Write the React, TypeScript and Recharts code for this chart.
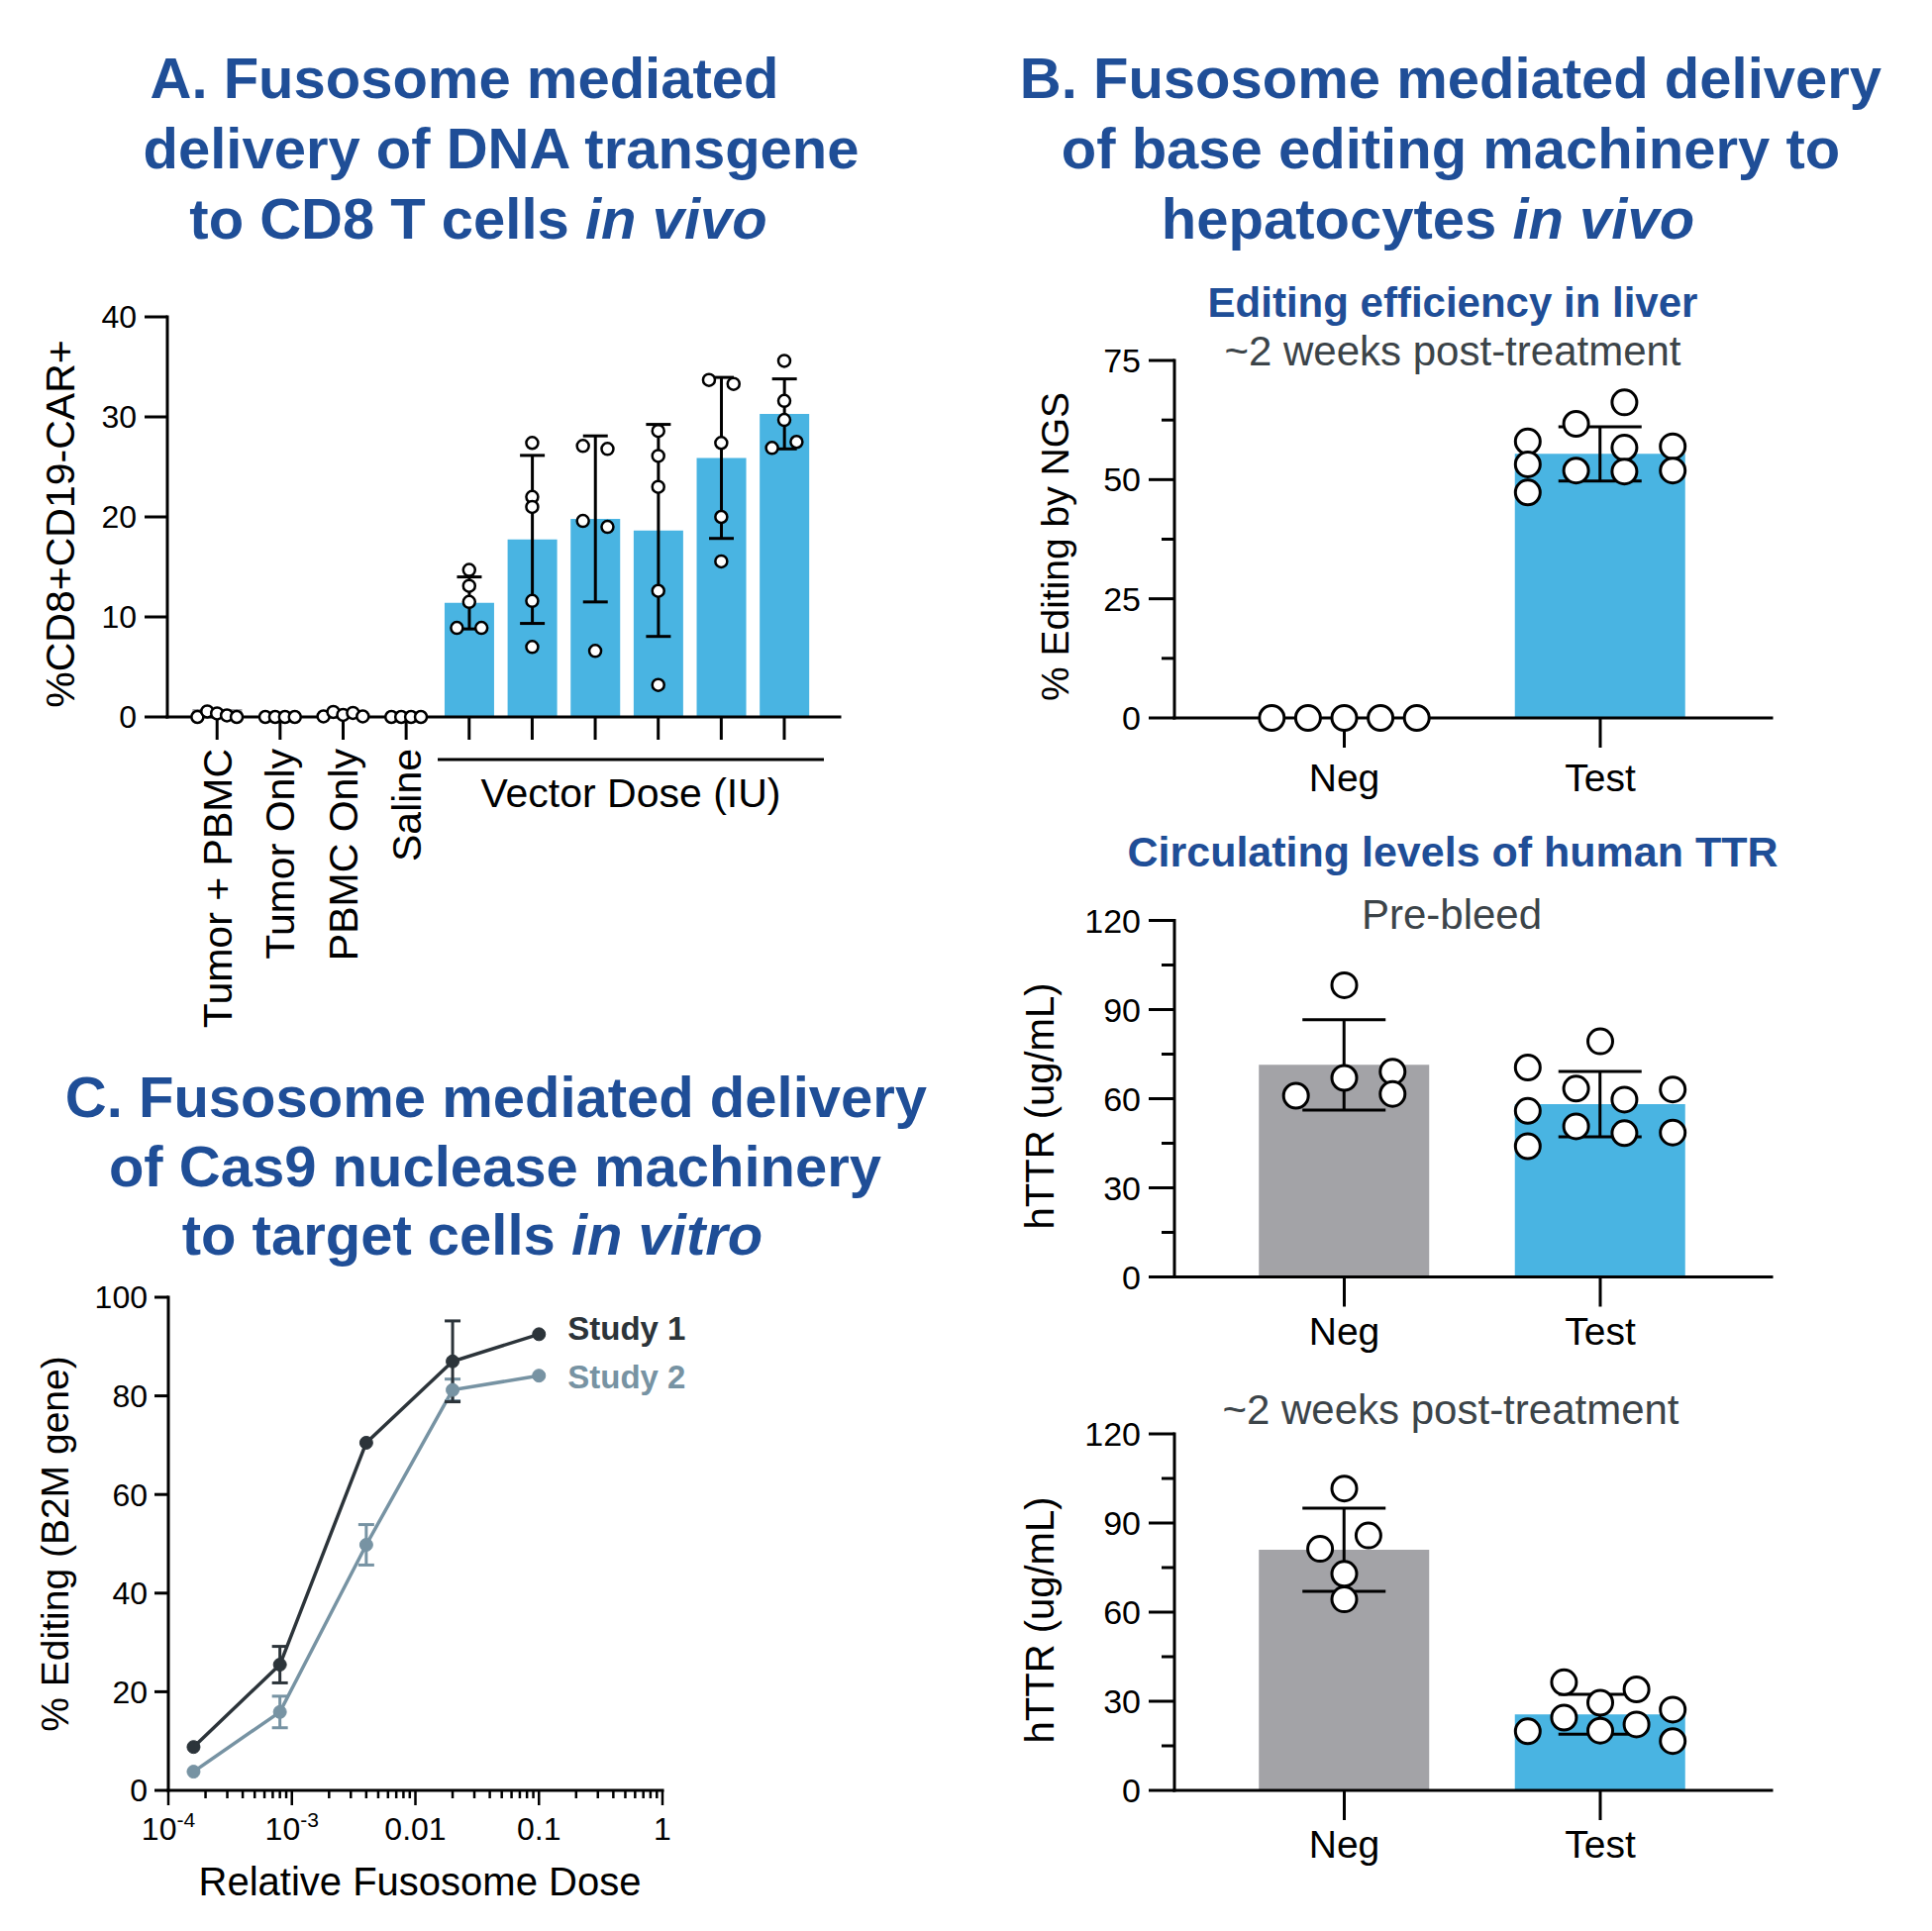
import React from "react";
import {
  Bar,
  Cell,
  ComposedChart,
  ErrorBar,
  LabelList,
  Line,
  LineChart,
  Scatter,
  XAxis,
  YAxis,
} from "recharts";

const FONT = '"Liberation Sans", Arial, Helvetica, sans-serif';
const INK = "#000000";
const BAR_BLUE = "#49b4e2";
const BAR_GRAY = "#a3a3a7";
const TITLE_BLUE = "#1f4e97";
const NOTE_GRAY = "#3c4449";
const STUDY1_COLOR = "#2c343a";
const STUDY2_COLOR = "#7793a3";

// ---- A. CD8 T cells in vivo
const A_LABELS = ["Tumor + PBMC", "Tumor Only", "PBMC Only", "Saline", "", "", "", "", "", ""];
const A_MEANS = [0.8, 0, 0, 0, 11.4, 17.75, 19.8, 18.65, 25.9, 30.3];
const A_SD = [0, 0, 0, 0, 2.6, 8.4, 8.3, 10.6, 8.05, 3.5];
const A_POINTS = [
  [0, 0.55, 0.35, 0.15, 0],
  [0, 0, 0, 0],
  [0.05, 0.5, 0.2, 0.4, 0.05],
  [0, 0, 0, 0],
  [14.7, 13.1, 11.5, 8.9, 8.9],
  [27.4, 22, 21, 11.6, 7],
  [27.1, 26.8, 19.6, 19, 6.6],
  [28.6, 26.1, 23, 12.6, 3.2],
  [33.7, 33.3, 27.4, 20, 15.55],
  [35.6, 31.6, 29.7, 26.9, 27.5],
];
// column of each dot inside its group (layout only)
const A_SLOTS = [
  [-1.6, -0.8, 0, 0.8, 1.6],
  [-1.2, -0.4, 0.4, 1.2],
  [-1.6, -0.8, 0, 0.8, 1.6],
  [-1.2, -0.4, 0.4, 1.2],
  [0, 0, 0, -1, 1],
  [0, 0, 0, 0, 0],
  [-1, 1, -1, 1, 0],
  [0, 0, 0, 0, 0],
  [-1, 1, 0, 0, 0],
  [0, 0, 0, -1, 1],
];
const A_FILLS = [BAR_GRAY, BAR_GRAY, BAR_GRAY, BAR_GRAY, BAR_BLUE, BAR_BLUE, BAR_BLUE, BAR_BLUE, BAR_BLUE, BAR_BLUE];
const A_Y_TICKS = [0, 10, 20, 30, 40];

// ---- B. hepatocytes in vivo
const B_GROUPS = ["Neg", "Test"];
const B_FILLS = [BAR_GRAY, BAR_BLUE];

const LIVER_MEANS = [0, 55.4];
const LIVER_SD = [0, 5.7];
const LIVER_POINTS = [
  [0, 0, 0, 0, 0],
  [58, 53.2, 47.3, 61.7, 51.9, 66.2, 56.7, 51.7, 57, 51.9],
];
const LIVER_SLOTS = [
  [-3, -1.5, 0, 1.5, 3],
  [-3, -3, -3, -1, -1, 1, 1, 1, 3, 3],
];

const PRE_MEANS = [71.4, 58.2];
const PRE_SD = [15.2, 11];
const PRE_POINTS = [
  [61, 67, 98.2, 69.1, 61.6],
  [70.5, 55.9, 44, 63.4, 50.7, 79.3, 59.7, 48.4, 63.1, 48.6],
];
const PRE_SLOTS = [
  [-2, 0, 0, 2, 2],
  [-3, -3, -3, -1, -1, 0, 1, 1, 3, 3],
];

const POST_MEANS = [81, 25.6];
const POST_SD = [14, 6.7];
const POST_POINTS = [
  [101.6, 81.3, 85.8, 72.9, 64.3],
  [19.9, 36.4, 24.5, 29.5, 20.1, 34, 22.2, 27.2, 16.6],
];
const POST_SLOTS = [
  [0, -1, 1, 0, 0],
  [-3, -1.5, -1.5, 0, 0, 1.5, 1.5, 3, 3],
];

// ---- C. target cells in vitro
const C_DOSES = [0.00016, 0.0008, 0.004, 0.02, 0.1];
const STUDY1 = [8.8, 25.5, 70.5, 87, 92.5];
const STUDY1_SD = [0, 3.7, 0, 8.2, 0];
const STUDY2 = [3.8, 15.9, 49.8, 81.2, 84.1];
const STUDY2_SD = [0, 3.2, 4.1, 2.2, 0];
const C_MAJOR_TICKS = [0.0001, 0.001, 0.01, 0.1, 1];
const C_TICK_LABELS = [["10", "-4"], ["10", "-3"], ["0.01", ""], ["0.1", ""], ["1", ""]];
const C_MINOR_STEPS = [2, 3, 4, 5, 6, 7, 8, 9];
const C_Y_TICKS = [0, 20, 40, 60, 80, 100];

const AXIS = { stroke: INK, strokeWidth: 3, strokeLinecap: "square" as const };
const TICK = { stroke: INK, strokeWidth: 3 };

function toBars(means: number[], sds: number[]) {
  return means.map((m, i) => ({ x: i, mean: m, sd: sds[i] }));
}

function toDots(points: number[][], slots: number[][]) {
  return points.flatMap((vals, i) => vals.map((v, j) => ({ x: i, v, slot: slots[i][j] })));
}

function ring(spacing: number, r: number, sw: number) {
  return (props: any) => (
    <circle
      cx={props.cx + props.payload.slot * spacing}
      cy={props.cy}
      r={r}
      fill="#ffffff"
      stroke={INK}
      strokeWidth={sw}
    />
  );
}

function ValueTick(props: any) {
  const { x, y, payload, majors, len, minorLen, gap, size } = props;
  const major = majors.includes(payload.value);
  return (
    <g>
      <line x1={x - (major ? len : minorLen)} x2={x} y1={y} y2={y} stroke={INK} strokeWidth={3} />
      {major ? (
        <text x={x - len - gap} y={y} dy="0.355em" textAnchor="end" fontSize={size} fontFamily={FONT} fill={INK}>
          {payload.value}
        </text>
      ) : null}
    </g>
  );
}

function GroupTick(props: any) {
  const { x, y, payload, dy } = props;
  return (
    <text x={x} y={y + dy} textAnchor="middle" fontSize={39} fontFamily={FONT} fill={INK}>
      {B_GROUPS[payload.value]}
    </text>
  );
}

function RotatedTick(props: any) {
  const { x, y, payload } = props;
  const label = A_LABELS[payload.value];
  if (!label) return <g />;
  return (
    <text
      transform={`translate(${x},${y + 9}) rotate(-90)`}
      textAnchor="end"
      dy="0.355em"
      fontSize={41}
      fontFamily={FONT}
      fill={INK}
    >
      {label}
    </text>
  );
}

function DoseTick(props: any) {
  const { x, y, payload } = props;
  const i = C_MAJOR_TICKS.indexOf(payload.value);
  const major = i >= 0;
  return (
    <g>
      <line x1={x} x2={x} y1={y} y2={y + (major ? 15 : 8)} stroke={INK} strokeWidth={2.5} />
      {major ? (
        <text x={x} y={y + 50} textAnchor="middle" fontSize={32} fontFamily={FONT} fill={INK}>
          <tspan>{C_TICK_LABELS[i][0]}</tspan>
          {C_TICK_LABELS[i][1] ? (
            <tspan dy={-13} fontSize={21}>
              {C_TICK_LABELS[i][1]}
            </tspan>
          ) : null}
        </text>
      ) : null}
    </g>
  );
}

function seriesTag(name: string, color: string, dy: number) {
  return (props: any) => {
    const { x, y, index } = props;
    if (index !== C_DOSES.length - 1) return null;
    return (
      <text x={x + 29} y={y + dy} fontSize={33} fontWeight="bold" fontFamily={FONT} fill={color}>
        {name}
      </text>
    );
  };
}

function PanelA() {
  const left = 0;
  const top = 280;
  const width = 900;
  const height = 800;
  const bars = toBars(A_MEANS, A_SD);
  const dots = toDots(A_POINTS, A_SLOTS);
  return (
    <div style={{ position: "absolute", left, top, width, height }}>
      <ComposedChart width={width} height={height} data={bars} margin={{ top: 40, right: 52, bottom: 0, left: 0 }}>
        <XAxis
          type="number"
          dataKey="x"
          domain={[-0.789, 9.88]}
          ticks={[0, 1, 2, 3, 4, 5, 6, 7, 8, 9]}
          interval={0}
          height={356}
          tickSize={23}
          tickMargin={0}
          axisLine={AXIS}
          tickLine={TICK}
          tick={<RotatedTick />}
        />
        <YAxis
          type="number"
          domain={[0, 40]}
          ticks={A_Y_TICKS}
          interval={0}
          width={169}
          tickSize={0}
          tickMargin={0}
          tickLine={false}
          axisLine={AXIS}
          tick={<ValueTick majors={A_Y_TICKS} len={23} minorLen={0} gap={8} size={32} />}
        />
        <Bar dataKey="mean" barSize={50} isAnimationActive={false}>
          {bars.map((_, i) => (
            <Cell key={i} fill={A_FILLS[i]} />
          ))}
          <ErrorBar dataKey="sd" direction="y" width={12.5} stroke={INK} strokeWidth={3} isAnimationActive={false} />
        </Bar>
        <Scatter data={dots} dataKey="v" isAnimationActive={false} shape={ring(12.4, 6, 2.5)} />
      </ComposedChart>
    </div>
  );
}

function HepPanel(props: any) {
  const { top, height, plotTop, plotBottom, yMax, majors, minors, means, sds, points, slots, labelDy } = props;
  const left = 1000;
  const width = 820;
  const plotLeft = 1186;
  const plotRight = 1789;
  const bars = toBars(means, sds);
  const dots = toDots(points, slots);
  const ticks = [...majors, ...minors].sort((a: number, b: number) => a - b);
  return (
    <div style={{ position: "absolute", left, top, width, height }}>
      <ComposedChart
        width={width}
        height={height}
        data={bars}
        margin={{ top: plotTop - top, right: left + width - plotRight, bottom: 0, left: 0 }}
      >
        <XAxis
          type="number"
          dataKey="x"
          domain={[-0.6634, 1.6692]}
          ticks={[0, 1]}
          interval={0}
          height={top + height - plotBottom}
          tickSize={30}
          tickMargin={0}
          axisLine={AXIS}
          tickLine={TICK}
          tick={<GroupTick dy={labelDy} />}
        />
        <YAxis
          type="number"
          domain={[0, yMax]}
          ticks={ticks}
          interval={0}
          width={plotLeft - left}
          tickSize={0}
          tickMargin={0}
          tickLine={false}
          axisLine={AXIS}
          tick={<ValueTick majors={majors} len={26} minorLen={13} gap={8} size={34} />}
        />
        <Bar dataKey="mean" barSize={172} isAnimationActive={false}>
          {bars.map((_, i) => (
            <Cell key={i} fill={B_FILLS[i]} />
          ))}
          <ErrorBar dataKey="sd" direction="y" width={42} stroke={INK} strokeWidth={3} isAnimationActive={false} />
        </Bar>
        <Scatter data={dots} dataKey="v" isAnimationActive={false} shape={ring(24.4, 12.5, 3)} />
      </ComposedChart>
    </div>
  );
}

function PanelC() {
  const data = C_DOSES.map((d, i) => ({
    dose: d,
    s1: STUDY1[i],
    s1sd: STUDY1_SD[i],
    s2: STUDY2[i],
    s2sd: STUDY2_SD[i],
  }));
  const allTicks = [
    ...C_MAJOR_TICKS,
    ...C_MAJOR_TICKS.slice(0, -1).flatMap((d) => C_MINOR_STEPS.map((m) => d * m)),
  ].sort((a, b) => a - b);
  return (
    <div style={{ position: "absolute", left: 0, top: 1280, width: 720, height: 670 }}>
      <LineChart width={720} height={670} data={data} margin={{ top: 30, right: 51, bottom: 0, left: 0 }}>
        <XAxis
          type="number"
          dataKey="dose"
          scale="log"
          domain={[0.0001, 1]}
          ticks={allTicks}
          interval={0}
          height={142}
          tickSize={0}
          tickMargin={0}
          tickLine={false}
          axisLine={AXIS}
          tick={<DoseTick />}
        />
        <YAxis
          type="number"
          domain={[0, 100]}
          ticks={C_Y_TICKS}
          interval={0}
          width={170}
          tickSize={0}
          tickMargin={0}
          tickLine={false}
          axisLine={AXIS}
          tick={<ValueTick majors={C_Y_TICKS} len={14} minorLen={0} gap={7} size={32} />}
        />
        <Line
          dataKey="s2"
          type="linear"
          stroke={STUDY2_COLOR}
          strokeWidth={3.5}
          dot={{ r: 6.5, fill: STUDY2_COLOR, stroke: STUDY2_COLOR, strokeWidth: 1 }}
          isAnimationActive={false}
        >
          <ErrorBar dataKey="s2sd" direction="y" width={8} stroke={STUDY2_COLOR} strokeWidth={3} isAnimationActive={false} />
          <LabelList dataKey="s2" content={seriesTag("Study 2", STUDY2_COLOR, 13)} />
        </Line>
        <Line
          dataKey="s1"
          type="linear"
          stroke={STUDY1_COLOR}
          strokeWidth={3.5}
          dot={{ r: 6.5, fill: STUDY1_COLOR, stroke: STUDY1_COLOR, strokeWidth: 1 }}
          isAnimationActive={false}
        >
          <ErrorBar dataKey="s1sd" direction="y" width={8} stroke={STUDY1_COLOR} strokeWidth={3} isAnimationActive={false} />
          <LabelList dataKey="s1" content={seriesTag("Study 1", STUDY1_COLOR, 6)} />
        </Line>
      </LineChart>
    </div>
  );
}

function Texts() {
  const rot = (x: number, y: number) => `translate(${x},${y}) rotate(-90)`;
  return (
    <svg
      width={1951}
      height={1950}
      style={{ position: "absolute", left: 0, top: 0, pointerEvents: "none" }}
      fontFamily={FONT}
    >
      <g fill={TITLE_BLUE} fontWeight="bold" fontSize={58} textAnchor="middle">
        <text x={469} y={98.5}>A. Fusosome mediated</text>
        <text x={506} y={170}>delivery of DNA transgene</text>
        <text x={483} y={240.5}>
          to CD8 T cells <tspan fontStyle="italic">in vivo</tspan>
        </text>
        <text x={1465} y={98.5}>B. Fusosome mediated delivery</text>
        <text x={1465} y={170}>of base editing machinery to</text>
        <text x={1442} y={240.5}>
          hepatocytes <tspan fontStyle="italic">in vivo</tspan>
        </text>
        <text x={501} y={1128}>C. Fusosome mediated delivery</text>
        <text x={500} y={1198}>of Cas9 nuclease machinery</text>
        <text x={477} y={1267}>
          to target cells <tspan fontStyle="italic">in vitro</tspan>
        </text>
      </g>
      <g textAnchor="middle">
        <text x={1467} y={320} fontSize={42} fontWeight="bold" fill={TITLE_BLUE}>
          Editing efficiency in liver
        </text>
        <text x={1467} y={369} fontSize={42} fill={NOTE_GRAY}>
          ~2 weeks post-treatment
        </text>
        <text x={1467} y={875} fontSize={43} fontWeight="bold" fill={TITLE_BLUE}>
          Circulating levels of human TTR
        </text>
        <text x={1466} y={938} fontSize={42} fill={NOTE_GRAY}>
          Pre-bleed
        </text>
        <text x={1465} y={1438} fontSize={42} fill={NOTE_GRAY}>
          ~2 weeks post-treatment
        </text>
      </g>
      <g textAnchor="middle" fill={INK}>
        <text transform={rot(60, 529)} dy="0.355em" fontSize={41}>
          %CD8+CD19-CAR+
        </text>
        <text transform={rot(1065, 552)} dy="0.355em" fontSize={39}>
          % Editing by NGS
        </text>
        <text transform={rot(1050, 1117)} dy="0.355em" fontSize={40}>
          hTTR (ug/mL)
        </text>
        <text transform={rot(1050, 1636)} dy="0.355em" fontSize={40}>
          hTTR (ug/mL)
        </text>
        <text transform={rot(55, 1559)} dy="0.355em" fontSize={39}>
          % Editing (B2M gene)
        </text>
        <text x={637} y={815} fontSize={41}>
          Vector Dose (IU)
        </text>
        <text x={424} y={1914} fontSize={40}>
          Relative Fusosome Dose
        </text>
      </g>
      <line x1={442} x2={832} y1={767} y2={767} stroke={INK} strokeWidth={3} />
    </svg>
  );
}

export default function App() {
  return (
    <div
      style={{
        position: "absolute",
        left: 0,
        top: 0,
        width: 1951,
        height: 1950,
        background: "#ffffff",
        fontFamily: FONT,
        overflow: "hidden",
      }}
    >
      <PanelA />
      <HepPanel
        top={330}
        height={500}
        plotTop={364}
        plotBottom={725}
        yMax={75}
        majors={[0, 25, 50, 75]}
        minors={[12.5, 37.5, 62.5]}
        means={LIVER_MEANS}
        sds={LIVER_SD}
        points={LIVER_POINTS}
        slots={LIVER_SLOTS}
        labelDy={44}
      />
      <HepPanel
        top={900}
        height={500}
        plotTop={929.5}
        plotBottom={1289.5}
        yMax={120}
        majors={[0, 30, 60, 90, 120]}
        minors={[15, 45, 75, 105]}
        means={PRE_MEANS}
        sds={PRE_SD}
        points={PRE_POINTS}
        slots={PRE_SLOTS}
        labelDy={38}
      />
      <HepPanel
        top={1420}
        height={530}
        plotTop={1448}
        plotBottom={1808}
        yMax={120}
        majors={[0, 30, 60, 90, 120]}
        minors={[15, 45, 75, 105]}
        means={POST_MEANS}
        sds={POST_SD}
        points={POST_POINTS}
        slots={POST_SLOTS}
        labelDy={38}
      />
      <PanelC />
      <Texts />
    </div>
  );
}
